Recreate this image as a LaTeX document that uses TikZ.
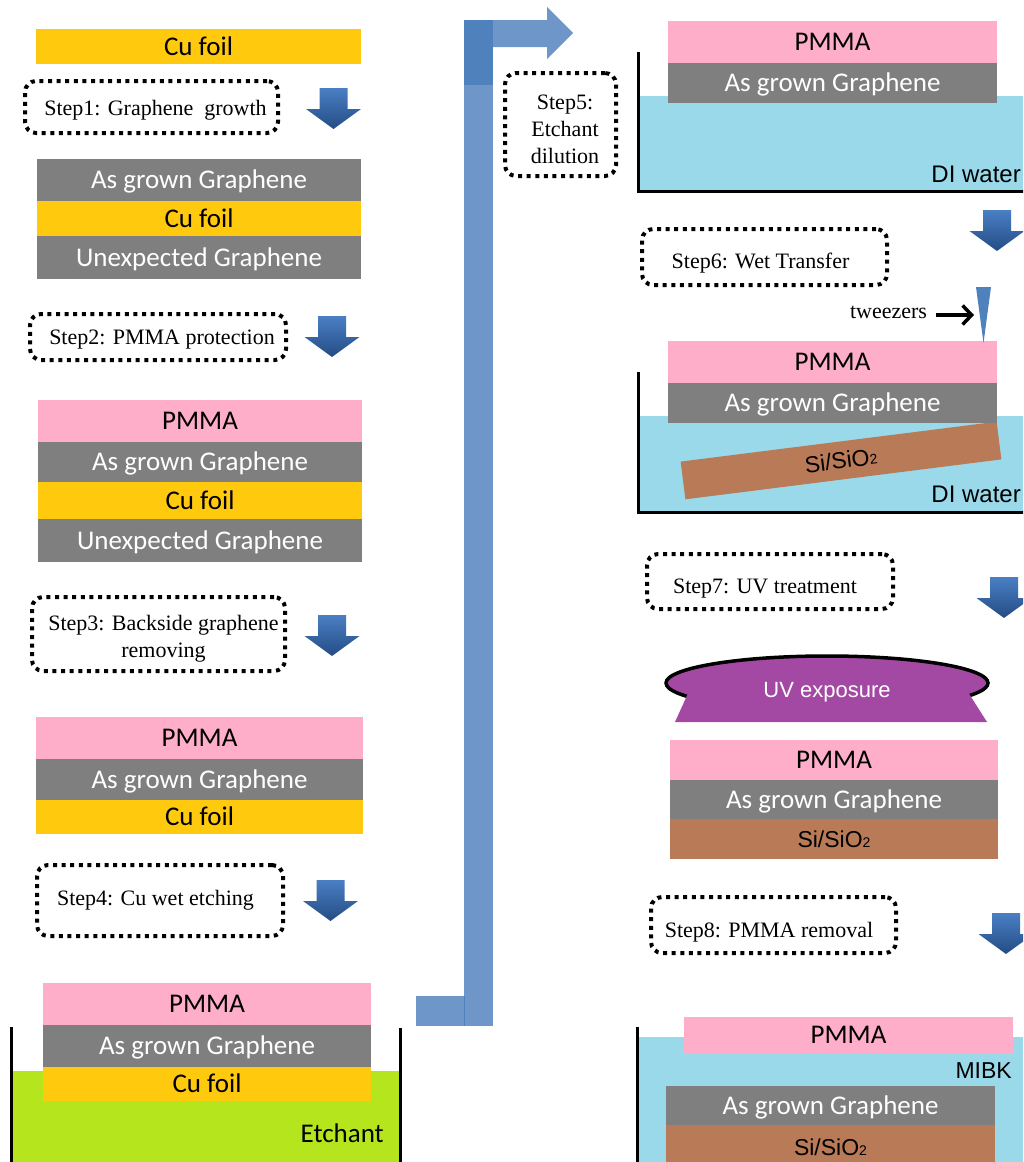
\documentclass[tikz,border=0pt]{standalone}
\usepackage{fontspec}
\setmainfont{Liberation Serif}
\newfontfamily\layerfont{Carlito}
\newfontfamily\labelfont{Liberation Sans}
\usetikzlibrary{arrows.meta}

\definecolor{cuY}{HTML}{FFC90E}
\definecolor{grph}{HTML}{7F7F7F}
\definecolor{pmma}{HTML}{FFAEC9}
\definecolor{etch}{HTML}{B5E61D}
\definecolor{water}{HTML}{99D9EA}
\definecolor{sio}{HTML}{B97A57}
\definecolor{uvc}{HTML}{A349A4}
\definecolor{flowlt}{HTML}{6E96C8}
\definecolor{flowdk}{HTML}{4F81BD}
\definecolor{arrtop}{HTML}{4A7FC4}
\definecolor{arrbot}{HTML}{244C84}

% one coloured layer of a sample stack: name, x1, y1, x2, y2, style, text
\newcommand\layer[7]{%
  \node[layerbox,#6,minimum width={(#4)-(#2)},minimum height={(#5)-(#3)}]
    (#1) at ({((#2)+(#4))/2},{((#3)+(#5))/2}) {#7};}
% block arrow pointing down: centre x, top y
\newcommand\downarr[2]{%
  \shade[top color=arrtop,bottom color=arrbot]
    ({#1-14},#2) -- ({#1+14},#2) -- ({#1+14},{#2+21}) -- ({#1+27.5},{#2+21})
    -- (#1,{#2+41}) -- ({#1-27.5},{#2+21}) -- ({#1-14},{#2+21}) -- cycle;}
\newcommand\subtwo{{\fontsize{14}{14}\selectfont 2}}

\tikzset{
  layerbox/.style={inner sep=0pt,outer sep=0pt,draw=none,
    font=\layerfont\fontsize{27}{27}\selectfont,text height=17.4pt,text depth=0pt},
  cu/.style={fill=cuY,text=black},
  gr/.style={fill=grph,text=white},
  pm/.style={fill=pmma,text=black},
  si/.style={fill=sio,text=black,font=\labelfont\fontsize{23}{23}\selectfont,text height=16.5pt},
  stepbox/.style={draw=black,line width=4pt,dash pattern=on 4pt off 4.6pt,
    rounded corners=11pt,inner sep=0pt},
  steptext/.style={font=\fontsize{22}{27}\selectfont,align=center,anchor=base,inner sep=0pt},
  wall/.style={line width=3pt,black},
  liquid/.style={font=\labelfont\fontsize{24}{24}\selectfont,anchor=base east,inner sep=0pt},
}

\begin{document}
\begin{tikzpicture}[x=1pt,y=-1pt]
\useasboundingbox (0,0) rectangle (1023,1162);
\clip (0,0) rectangle (1023,1162);
\fill[white] (0,0) rectangle (1023,1162);

%% ---------------- left column ----------------
\layer{cu0}{36}{29}{361}{64}{cu}{Cu foil}

\node[stepbox,minimum width=253,minimum height=52] (s1) at (151.5,107) {};
\node[steptext] (s1t) at (155.5,115) {Step1: Graphene~ growth};
\downarr{333.5}{88}

\layer{g1a}{37}{159}{361}{201}{gr}{As grown Graphene}
\layer{cu1}{37}{201}{361}{236}{cu}{Cu foil}
\layer{g1b}{37}{236}{361}{279}{gr}{Unexpected Graphene}

\node[stepbox,minimum width=256,minimum height=46] (s2) at (158,337) {};
\node[steptext] (s2t) at (162,344.5) {Step2: PMMA protection};
\downarr{332}{316}

\layer{p2}{38}{400}{362}{442}{pm}{PMMA}
\layer{g2a}{38}{442}{362}{482}{gr}{As grown Graphene}
\layer{cu2}{38}{482}{362}{519}{cu}{Cu foil}
\layer{g2b}{38}{519}{362}{562}{gr}{Unexpected Graphene}

% two-line label: the base anchor sits on the last line
\node[stepbox,minimum width=253,minimum height=74] (s3) at (158.5,634) {};
\node[steptext] (s3t) at (163.5,657) {Step3: Backside graphene\\removing};
\downarr{332}{615}

\layer{p3}{36}{717}{363}{759}{pm}{PMMA}
\layer{g3}{36}{759}{363}{800}{gr}{As grown Graphene}
\layer{cu3}{36}{800}{363}{834}{cu}{Cu foil}

\node[stepbox,minimum width=246,minimum height=71] (s4) at (160,900.5) {};
\node[steptext] (s4t) at (155.5,905) {Step4: Cu wet etching};
\downarr{330.5}{880}

% etching bath
\fill[etch] (12,1071) rectangle (399,1170);
\layer{p4}{43}{983}{371}{1025}{pm}{PMMA}
\layer{g4}{43}{1025}{371}{1067}{gr}{As grown Graphene}
\layer{cu4}{43}{1067}{371}{1101}{cu}{Cu foil}
\draw[wall] (11,1027) -- (11,1170);
\draw[wall] (400,1028) -- (400,1170);
\node[liquid,font=\layerfont\fontsize{27}{27}\selectfont] (etl) at (384,1142) {Etchant};

%% ---------------- flow arrow to the right column ----------------
\fill[flowlt] (464,20) rectangle (493,1026);
\fill[flowlt] (416,996) rectangle (493,1026);
\fill[flowlt] (464,20) -- (547,20) -- (547,7) -- (573,33) -- (547,59) -- (547,47) -- (464,47) -- cycle;
\fill[flowdk] (464,20) rectangle (493,85);
\draw[flowdk,line width=0.8pt] (464,996) -- (464,1026);

%% ---------------- right column ----------------
\node[stepbox,minimum width=111,minimum height=103] (s5) at (560.5,124.5) {};
\node[steptext] (s5t) at (565,163) {Step5:\\Etchant\\dilution};

% dilution bath
\fill[water] (638,96) rectangle (1030,191);
\layer{p5}{668}{21}{997}{63}{pm}{PMMA}
\layer{g5}{668}{63}{997}{103}{gr}{As grown Graphene}
\draw[wall] (638,52) -- (638,191) -- (1030,191);
\node[liquid] (dw1) at (1021,182) {DI water};

\node[stepbox,minimum width=245,minimum height=56] (s6) at (764.5,257) {};
\node[steptext] (s6t) at (760.5,268) {Step6: Wet Transfer};
\downarr{997}{210}

% wet transfer onto the substrate
\fill[water] (638,416) rectangle (1030,512);
\node[si,rotate=7.2,minimum width=318.5,minimum height=38,inner sep=0pt] (sub6) at (841,460.5) {Si/SiO\subtwo};
\layer{p6}{668}{341}{997}{383}{pm}{PMMA}
\layer{g6}{668}{383}{997}{423}{gr}{As grown Graphene}
\draw[wall] (638,372) -- (638,512) -- (1030,512);
\node[liquid] (dw2) at (1021,502) {DI water};

\fill[flowdk] (976,287) -- (991,287) -- (983.5,343) -- cycle;
\coordinate (twz) at (974,315);
\node[steptext] (twl) at (888.5,318) {tweezers};
\draw[line width=3.5pt,-{Straight Barb[length=9pt,width=19pt]},shorten <=9pt] (twl.east |- twz) -- (twz);

\node[stepbox,minimum width=246,minimum height=55] (s7) at (770,581.5) {};
\node[steptext] (s7t) at (765,593) {Step7: UV treatment};
\downarr{1004}{577}

% UV lamp
\draw[line width=3.5pt,fill=uvc] (827,683) ellipse [x radius=161,y radius=27];
\fill[uvc] (690,689) -- (966,689) -- (987,722) -- (675,722) -- cycle;
\node[font=\labelfont\fontsize{22}{22}\selectfont,text=white,text height=15.8pt,text depth=0pt,inner sep=0pt] (uvl) at (827,690) {UV exposure};

\layer{p7}{670}{740}{998}{780}{pm}{PMMA}
\layer{g7}{670}{780}{998}{819}{gr}{As grown Graphene}
\layer{sub7}{670}{819}{998}{859}{si}{Si/SiO\subtwo}

\node[stepbox,minimum width=245,minimum height=56] (s8) at (773.5,925) {};
\node[steptext] (s8t) at (769,937) {Step8: PMMA removal};
\downarr{1006}{913}

% solvent bath
\fill[water] (638,1037) rectangle (1030,1170);
\layer{p8}{684}{1017}{1013}{1053}{pm}{PMMA}
\node[liquid,font=\labelfont\fontsize{23}{23}\selectfont] (mibk) at (1012,1078) {MIBK};
\layer{g8}{666}{1086}{995}{1125}{gr}{As grown Graphene}
\layer{sub8}{666}{1125}{995}{1170}{si}{Si/SiO\subtwo}
\draw[wall] (637,1027) -- (637,1170);
\end{tikzpicture}
\end{document}
